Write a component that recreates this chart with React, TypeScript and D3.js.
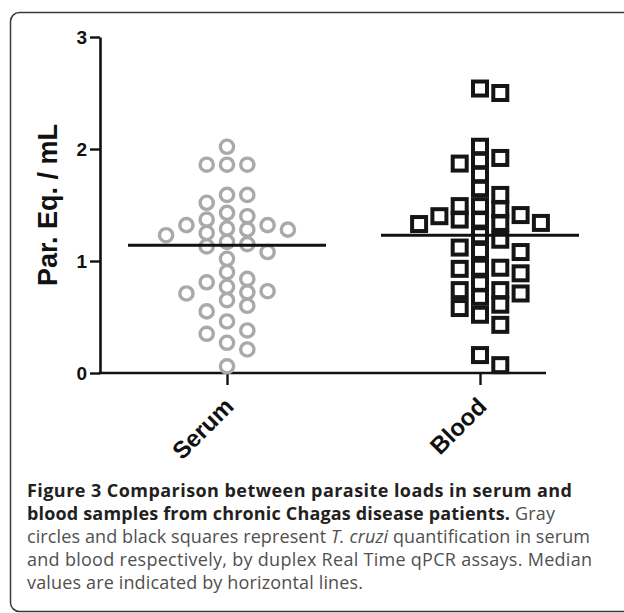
import React, { useEffect, useRef } from "react";
import * as d3 from "d3";

// values (parasite equivalents / mL)
const groups = ["Serum", "Blood"];
const serum = [
  2.02, 1.86, 1.86, 1.86, 1.59, 1.52, 1.59, 1.4, 1.25, 1.32, 1.29, 1.28, 1.28,
  1.32, 1.37, 1.43, 1.15, 1.13, 1.17, 1.23, 1.08, 1.02, 0.9, 0.81, 0.73, 0.71,
  0.6, 0.65, 0.72, 0.77, 0.84, 0.55, 0.46, 0.35, 0.38, 0.27, 0.21, 0.06,
];
const blood = [
  2.5, 2.54, 2.02, 1.9, 1.77, 1.87, 1.92, 1.59, 1.65, 1.49, 1.46, 1.37, 1.37,
  1.23, 1.34, 1.33, 1.34, 1.4, 1.41, 1.49, 1.19, 1.12, 1.08, 1.09, 0.94, 0.93,
  0.89, 0.94, 0.8, 0.74, 0.68, 0.71, 0.74, 0.61, 0.58, 0.52, 0.43, 0.07, 0.16,
];
const yTicks = [0, 1, 2, 3];
const yLabel = "Par. Eq. / mL";

const W = 624;
const H = 613;

// simple column-scatter layout: points dodge sideways in fixed slots
const swarm = (values, cx, y, slot, minDy) => {
  const order = d3.range(values.length).sort((a, b) => values[b] - values[a]);
  const placed = [];
  const out = new Array(values.length);
  order.forEach(i => {
    const py = y(values[i]);
    for (let k = 0; ; k++) {
      const s = k === 0 ? 0 : k % 2 === 1 ? (k + 1) / 2 : -k / 2;
      const free = placed.every(p => p.s !== s || Math.abs(p.y - py) >= minDy);
      if (free) {
        placed.push({ s, y: py });
        out[i] = { x: cx + s * slot, y: py, v: values[i] };
        break;
      }
    }
  });
  return out;
};

const App = () => {
  const ref = useRef(null);

  useEffect(() => {
    const svg = d3.select(ref.current);
    svg.selectAll("*").remove();

    const left = 100, right = 546, top = 37, bottom = 373;
    const y = d3.scaleLinear().domain([0, 3]).range([bottom, top]);
    const x = d3.scalePoint().domain(groups).range([227, 480]);

    // frame around the figure
    svg.append("rect")
      .attr("x", 10.5).attr("y", 12.5)
      .attr("width", 640).attr("height", 599)
      .attr("rx", 9)
      .attr("fill", "none")
      .attr("stroke", "#3a3a3a")
      .attr("stroke-width", 1.5);

    // y axis
    const yAxis = svg.append("g")
      .attr("transform", `translate(${left},0)`)
      .call(d3.axisLeft(y).tickValues(yTicks).tickFormat(d3.format("d"))
        .tickSize(10).tickSizeOuter(0).tickPadding(3));
    yAxis.select(".domain").attr("stroke", "#111").attr("stroke-width", 2.6);
    yAxis.selectAll(".tick line").attr("stroke", "#111").attr("stroke-width", 2.4);
    yAxis.selectAll(".tick text")
      .attr("fill", "#111")
      .style("font-family", "Liberation Sans, Arial, sans-serif")
      .style("font-weight", "bold")
      .style("font-size", "19px");

    // x axis
    svg.append("line")
      .attr("x1", left - 1.3).attr("x2", right)
      .attr("y1", bottom).attr("y2", bottom)
      .attr("stroke", "#111").attr("stroke-width", 2.6);
    const xAxis = svg.append("g")
      .attr("transform", `translate(0,${bottom})`)
      .call(d3.axisBottom(x).tickSize(12).tickSizeOuter(0).tickFormat(""));
    xAxis.select(".domain").remove();
    xAxis.selectAll(".tick line").attr("stroke", "#111").attr("stroke-width", 2.4);

    svg.selectAll("text.xlab")
      .data(groups)
      .enter()
      .append("text")
      .attr("class", "xlab")
      .attr("transform", d => `translate(${x(d) + 8},${bottom + 35}) rotate(-45)`)
      .attr("text-anchor", "end")
      .style("font-family", "Liberation Sans, Arial, sans-serif")
      .style("font-weight", "bold")
      .style("font-size", "24px")
      .attr("fill", "#111")
      .text(d => d);

    svg.append("text")
      .attr("transform", `translate(57,205) rotate(-90)`)
      .attr("text-anchor", "middle")
      .style("font-family", "Liberation Sans, Arial, sans-serif")
      .style("font-weight", "bold")
      .style("font-size", "27px")
      .attr("fill", "#111")
      .text(yLabel);

    // serum: gray open circles
    const sPts = swarm(serum, x("Serum"), y, 20.3, 13);
    svg.append("g")
      .selectAll("circle")
      .data(sPts)
      .enter()
      .append("circle")
      .attr("cx", d => d.x)
      .attr("cy", d => d.y)
      .attr("r", 6.6)
      .attr("fill", "none")
      .attr("stroke", "#a9a9a9")
      .attr("stroke-width", 3.4);

    // blood: black open squares
    const bPts = swarm(blood, x("Blood"), y, 20.3, 13);
    svg.append("g")
      .selectAll("rect")
      .data(bPts)
      .enter()
      .append("rect")
      .attr("x", d => d.x - 7)
      .attr("y", d => d.y - 7)
      .attr("width", 14)
      .attr("height", 14)
      .attr("fill", "none")
      .attr("stroke", "#151515")
      .attr("stroke-width", 4);

    // median lines
    const medians = [
      { g: "Serum", m: d3.median(serum) },
      { g: "Blood", m: d3.median(blood) },
    ];
    svg.selectAll("line.median")
      .data(medians)
      .enter()
      .append("line")
      .attr("class", "median")
      .attr("x1", d => x(d.g) - 99)
      .attr("x2", d => x(d.g) + 99)
      .attr("y1", d => y(d.m))
      .attr("y2", d => y(d.m))
      .attr("stroke", "#111")
      .attr("stroke-width", 3);

    // caption
    const cap = svg.append("g")
      .style("font-family", "Open Sans, sans-serif")
      .style("font-size", "18px");
    const lines = [
      { w: 545, parts: [{ t: "Figure 3 Comparison between parasite loads in serum and", b: true }] },
      {
        w: 528,
        parts: [
          { t: "blood samples from chronic Chagas disease patients.", b: true },
          { t: " Gray" },
        ],
      },
      {
        w: 563,
        parts: [
          { t: "circles and black squares represent " },
          { t: "T. cruzi", i: true },
          { t: " quantification in serum" },
        ],
      },
      { w: 565, parts: [{ t: "and blood respectively, by duplex Real Time qPCR assays. Median" }] },
      { w: 336, parts: [{ t: "values are indicated by horizontal lines." }] },
    ];
    lines.forEach((ln, li) => {
      const t = cap.append("text")
        .attr("x", 27)
        .attr("y", 497 + li * 23)
        .attr("textLength", ln.w)
        .attr("lengthAdjust", "spacing");
      ln.parts.forEach(p => {
        t.append("tspan")
          .attr("fill", p.b ? "#231f20" : "#505050")
          .style("font-weight", p.b ? "bold" : "normal")
          .style("font-style", p.i ? "italic" : "normal")
          .text(p.t);
      });
    });
  }, []);

  return (
    <svg
      ref={ref}
      width={W}
      height={H}
      style={{ position: "absolute", left: 0, top: 0, background: "#fff" }}
    />
  );
};

export default App;
